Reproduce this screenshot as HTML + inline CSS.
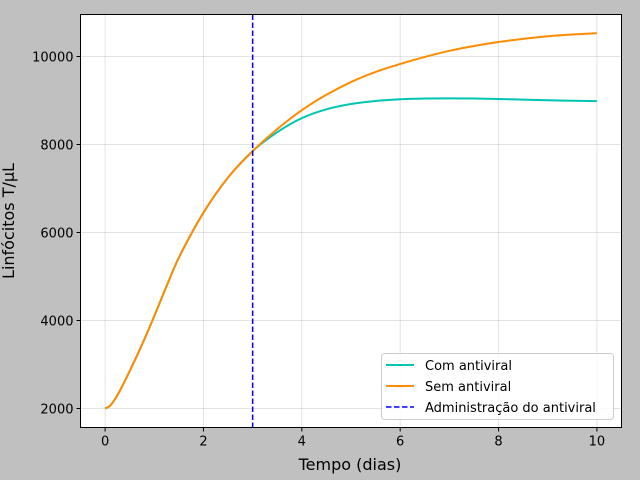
<!DOCTYPE html>
<html><head><meta charset="utf-8"><style>
body{margin:0;background:#c0c0c0;}
svg{display:block;font-family:"DejaVu Sans","Liberation Sans",sans-serif;}
</style></head><body>
<svg id="chart" width="640" height="480">
<rect x="0" y="0" width="640" height="480" fill="#c0c0c0"/>
<rect x="80.5" y="14.5" width="541" height="413" fill="#fff"/>
<g id="grid"></g>
<g id="series"></g>
<rect x="80.5" y="14.5" width="541" height="413" fill="none" stroke="#000" stroke-width="1"/>
<g id="ticks"></g>
<text x="350" y="470" font-size="16" text-anchor="middle">Tempo (dias)</text>
<text transform="translate(14,221) rotate(-90)" font-size="16" text-anchor="middle">Linfócitos T/μL</text>
<g>
<rect x="381.5" y="353.5" width="232" height="66" rx="3" fill="#fff" fill-opacity="0.8" stroke="#ccc"/>
<line x1="386" y1="365" x2="414" y2="365" stroke="#00c5b0" stroke-width="2"/>
<text x="425" y="370" font-size="13">Com antiviral</text>
<line x1="386" y1="386" x2="414" y2="386" stroke="#ff8c00" stroke-width="2"/>
<text x="425" y="391" font-size="13">Sem antiviral</text>
<line x1="386" y1="407" x2="414" y2="407" stroke="#0000ff" stroke-width="1.5" stroke-dasharray="5.5,2.5"/>
<text x="425" y="412" font-size="13">Administração do antiviral</text>
</g>
</svg>
<script>
const times=[0,0.1,0.25,0.5,0.75,1,1.25,1.5,2,2.5,3,3.5,4,4.5,5,5.5,6,6.5,7,7.5,8,8.5,9,9.5,10];
const semAntiviral=[2000,2060,2300,2850,3450,4100,4780,5430,6450,7250,7850,8350,8780,9130,9420,9650,9830,9990,10130,10240,10330,10400,10460,10500,10530];
const comAntiviral=[2000,2060,2300,2850,3450,4100,4780,5430,6450,7250,7850,8280,8600,8800,8920,8990,9030,9045,9050,9045,9035,9020,9005,8995,8985];
const antiviralDay=3;
const xTicks=[0,2,4,6,8,10];
const yTicks=[2000,4000,6000,8000,10000];
const NS="http://www.w3.org/2000/svg";
const X0=80.5,X1=621.5,Y0=427.5,Y1=14.5,xmin=-0.5,xmax=10.5,ymin=1568,ymax=10955;
function sx(v){return X0+(v-xmin)/(xmax-xmin)*(X1-X0);}
function sy(v){return Y0-(v-ymin)/(ymax-ymin)*(Y0-Y1);}
function mk(tag,attrs,parent){const e=document.createElementNS(NS,tag);for(const k in attrs)e.setAttribute(k,attrs[k]);document.getElementById(parent).appendChild(e);return e;}
xTicks.forEach(t=>{
 const g=mk('line',{x1:sx(t),x2:sx(t),y1:Y1,y2:Y0,stroke:'#b0b0b0','stroke-opacity':0.35},'grid');
 
 
 const tk=mk('line',{x1:sx(t),x2:sx(t),y1:Y0,y2:Y0+4,stroke:'#000'},'ticks');
 
 
 const tx=mk('text',{x:sx(t),y:Y0+18,'font-size':13,'text-anchor':'middle'},'ticks');
 tx.textContent=t;
 
 
});
yTicks.forEach(t=>{
 const g=mk('line',{x1:X0,x2:X1,y1:sy(t),y2:sy(t),stroke:'#b0b0b0','stroke-opacity':0.35},'grid');
 
 
 const tk=mk('line',{x1:X0-4,x2:X0,y1:sy(t),y2:sy(t),stroke:'#000'},'ticks');
 
 
 const tx=mk('text',{x:X0-7,y:sy(t)+5,'font-size':13,'text-anchor':'end'},'ticks');
 tx.textContent=t;
 
 
});
function pathFor(xs,ys){
 const p=xs.map((x,i)=>[sx(x),sy(ys[i])]);
 let d='M'+p[0][0]+','+p[0][1];
 for(let i=0;i<p.length-1;i++){
  const a=p[Math.max(0,i-1)],b=p[i],c=p[i+1],e=p[Math.min(p.length-1,i+2)];
  const h=c[0]-b[0];
  const m1=(c[1]-a[1])/(c[0]-a[0]||1),m2=(e[1]-b[1])/(e[0]-b[0]||1);
  const c1=[b[0]+h/3,b[1]+m1*h/3],c2=[c[0]-h/3,c[1]-m2*h/3];
  d+=' C'+c1+' '+c2+' '+c;
 }
 return d;
}
const l1=mk('path',{d:pathFor(times,comAntiviral),fill:'none',stroke:'#00c5b0','stroke-width':2},'series');


const l2=mk('path',{d:pathFor(times,semAntiviral),fill:'none',stroke:'#ff8c00','stroke-width':2},'series');


const vl=mk('line',{x1:sx(antiviralDay),x2:sx(antiviralDay),y1:Y1,y2:Y0,stroke:'#0000ff','stroke-width':1.5,'stroke-dasharray':'5.5,2.5'},'series');


</script>
</body></html>
